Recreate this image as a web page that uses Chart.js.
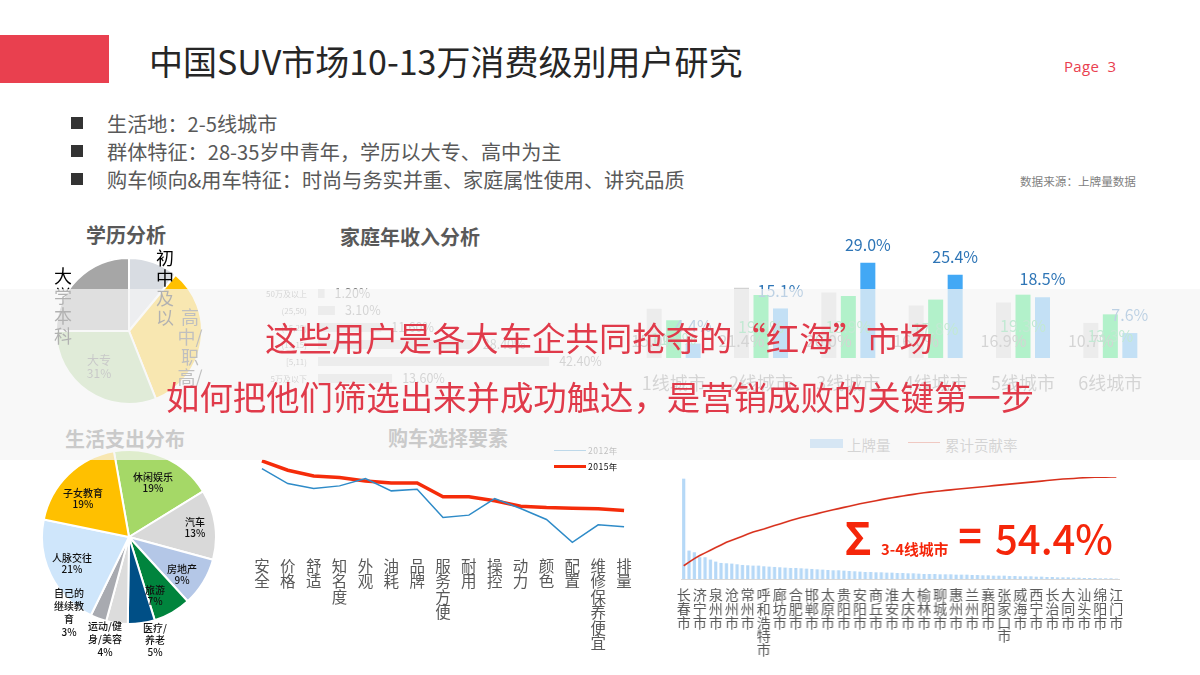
<!DOCTYPE html>
<html lang="zh">
<head>
<meta charset="utf-8">
<script src="https://cdn.jsdelivr.net/npm/chart.js@4"></script>
<style>
html,body{margin:0;padding:0;background:#fff;width:1200px;height:675px;overflow:hidden}
#stage{position:relative;width:1200px;height:675px;overflow:hidden;filter:blur(.45px);font-family:"Noto Sans CJK SC","Noto Sans",sans-serif;background:#fff}
canvas{position:absolute}
.t{position:absolute;white-space:pre;color:#595959}
#veil{position:absolute;left:0;top:289px;width:1200px;height:171px;background:rgba(245,245,245,.72)}
.box{position:absolute}
</style>
</head>
<body>
<div id="stage"></div>
<script>
/* ---------- data ---------- */
const eduLabels = ['初中及以下','高中/职高/中专','大专','大学本科'];
const eduValues = [11,33,31,25];
const eduColors = ['#d8dce2','#ffc000','#a9d18e','#a6a6a6'];

const incomeLabels = ['50万及以上','(25,50)','(15,25)','(11,15)','[5,11)','5万及以下'];
const incomeValues = [1.2,3.1,11.6,28.4,42.4,13.6];

const tierLabels = ['1线城市','2线城市','3线城市','4线城市','5线城市','6线城市'];
const tierGray  = [15.0,21.4,20.0,16.0,16.9,10.7];
const tierGreen = [11.5,19.2,18.9,17.8,19.3,13.3];
const tierBlue  = [4.4,15.1,29.0,25.4,18.5,7.6];

const spendLabels = ['休闲娱乐','汽车','房地产','旅游','医疗/养老','运动/健身/美容','自己的继续教育','人脉交往','子女教育'];
const spendValues = [19,13,9,7,5,4,3,21,19];
const spendColors = ['#a5d867','#d9d9d9','#b4c7e7','#00843d','#004f86','#dcdcdc','#a8aab0','#cfe6fb','#ffc000'];

const factorLabels = ['安全','价格','舒适','知名度','外观','油耗','品牌','服务方便','耐用','操控','动力','颜色','配置','维修保养便宜','排量'];
const factors2012 = [57,48,45,46.6,51,43.6,44.6,27.6,29,39,33,26.4,12.6,23.2,22];
const factors2015 = [61.6,56,52.6,51.6,49.6,48.4,48.4,40,40,37.6,34.4,33.6,33.2,32.8,31.8];

const cityLabels = ['长春市','济宁市','泉州市','沧州市','常州市','呼和浩特市','廊坊市','合肥市','邯郸市','太原市','贵阳市','安阳市','商丘市','淮安市','大庆市','榆林市','聊城市','惠州市','兰州市','襄阳市','张家口市','威海市','西宁市','长治市','大同市','汕头市','绵阳市','江门市'];
const cityBars = [300,85,80,65,65,58,52,48,47,46,
  44,42,41,40,40,38,37,36,35,34,
  33,33,32,31,30,29,28,27,26,26,
  25,24,23,22,21,21,20,20,19,19,
  18,18,17,17,16,15,15,15,14,14,
  14,13,13,13,12,12,11,11,10,10,
  10,9,9,8,8,8,7,7,6,6,
  5,5,5,4,4,3,3,3,2,2,
  2,1];
const cityCum = [13,16.5,20,23,25.6,28.2,30.8,33.4,36,38,
  40,42,44,46,47.5,49,50.8,52.4,54,55.7,
  57.4,58.8,60.2,61.5,62.8,64.1,65.4,66.6,67.8,69,
  70.2,71.4,72.6,73.8,74.8,75.8,76.8,77.8,78.8,79.7,
  80.5,81.4,82.2,83,83.8,84.6,85.2,85.8,86.3,86.9,
  87.4,88,88.5,89,89.5,90,90.5,91,91.5,92,
  92.5,93,93.5,94,94.5,95,95.5,96,96.5,97,
  97.5,98,98.3,98.6,99,99.3,99.5,99.7,99.8,99.9,
  100,100];

/* ---------- helpers ---------- */
const stage = document.getElementById('stage');
const FONT = '"Noto Sans CJK SC","Noto Sans",sans-serif';
function text(str,x,y,style={},anchor='left'){
  const d=document.createElement('div');d.className='t';d.textContent=str;
  d.style.left=x+'px';d.style.top=y+'px';
  const tx=anchor==='center'?'-50%':anchor==='right'?'-100%':'0';
  d.style.transform=`translate(${tx},-50%)`;
  Object.assign(d.style,style);stage.appendChild(d);return d;
}
function rect(x,y,w,h,color){
  const d=document.createElement('div');d.className='box';
  Object.assign(d.style,{left:x+'px',top:y+'px',width:w+'px',height:h+'px',background:color});
  stage.appendChild(d);return d;
}
function canvasAt(x,y,w,h){
  const c=document.createElement('canvas');
  c.width=w;c.height=h;
  Object.assign(c.style,{left:x+'px',top:y+'px',width:w+'px',height:h+'px'});
  stage.appendChild(c);return c;
}
const base={responsive:false,animation:false,devicePixelRatio:1,
  plugins:{legend:{display:false},tooltip:{enabled:false},title:{display:false}}};
function vert(s){return s.split('');}

/* ---------- header ---------- */
rect(0,35,109,48,'#e9404f');
text('中国SUV市场10-13万消费级别用户研究',149,60,{fontSize:'34px',color:'#262626'});
text('Page  3',1064,65.5,{fontSize:'15px',color:'#e9404f',fontFamily:'"Open Sans",sans-serif',fontWeight:'500',letterSpacing:'.3px'});
const bullets=['生活地：2-5线城市','群体特征：28-35岁中青年，学历以大专、高中为主','购车倾向&用车特征：时尚与务实并重、家庭属性使用、讲究品质'];
bullets.forEach((b,i)=>{
  rect(71,117+i*28,12,12,'#333');
  text(b,107,123+i*28,{fontSize:'20.15px',color:'#595959'});
});
text('数据来源：上牌量数据',1020,181,{fontSize:'11.6px',color:'#7f7f7f'});

/* ---------- section titles ---------- */
const ttl={fontSize:'20px',fontWeight:'700',color:'#595959'};
text('学历分析',86,234,ttl);
text('家庭年收入分析',340,236,ttl);
text('生活支出分布',65,438,ttl);
text('购车选择要素',388,437,ttl);

/* ---------- education pie ---------- */
new Chart(canvasAt(55,257,148,148),{type:'pie',
  data:{labels:eduLabels,datasets:[{data:eduValues,backgroundColor:eduColors,borderColor:'#fff',borderWidth:2}]},
  options:{...base}});
const pieTxt={fontSize:'18px',lineHeight:'20px',color:'#000',textAlign:'center'};
text('初\n中\n及\n以',165,287,pieTxt,'center');
text('大\n学\n本\n科',63,305,pieTxt,'center');
text('高\n中/\n职\n高/',190,346,{...pieTxt,color:'#333'},'center');
text('大专\n31%',99,366,{fontSize:'12px',lineHeight:'13px',color:'#555',textAlign:'center'},'center');

/* ---------- income bars ---------- */
const incomeLabelPlugin={id:'incomeVals',afterDatasetsDraw(ch){
  const c=ch.ctx;c.save();c.font='12.5px '+FONT;c.fillStyle='#7f7f7f';c.textBaseline='middle';
  ch.getDatasetMeta(0).data.forEach((b,i)=>{c.fillText(incomeValues[i].toFixed(2)+'%',b.x+10,b.y);});
  c.restore();}};
new Chart(canvasAt(258,285,350,102),{type:'bar',
  data:{labels:incomeLabels,datasets:[{data:incomeValues,backgroundColor:'#d2d2d2',barPercentage:.53,categoryPercentage:1}]},
  options:{...base,indexAxis:'y',layout:{padding:0},
    scales:{x:{display:false,min:0,max:53.2},
      y:{grid:{display:false},border:{display:false},afterFit(s){s.width=60;s.paddingTop=0;s.paddingBottom=0;},
        ticks:{font:{size:8,family:FONT},color:'#7f7f7f',padding:3}}}},
  plugins:[incomeLabelPlugin]});

/* ---------- tier bars ---------- */
const tierLabelPlugin={id:'tierVals',afterDatasetsDraw(ch){
  const c=ch.ctx;c.save();c.font='16px '+FONT;c.textAlign='center';
  const zero=ch.scales.y.getPixelForValue(0);
  ch.getDatasetMeta(0).data.forEach((b,i)=>{c.fillStyle='#7f7f7f';c.textBaseline='middle';c.fillText(tierGray[i].toFixed(1)+'%',b.x,zero-17);});
  ch.getDatasetMeta(1).data.forEach((b,i)=>{c.fillStyle='#3fc97a';c.textBaseline='middle';c.fillText(tierGreen[i].toFixed(1)+'%',b.x,(b.y+zero)/2);});
  ch.getDatasetMeta(2).data.forEach((b,i)=>{c.fillStyle='#2e75b6';c.textBaseline='bottom';c.fillText(tierBlue[i].toFixed(1)+'%',b.x,b.y-10);});
  c.restore();}};
const barOpt={barPercentage:.77,categoryPercentage:.67};
new Chart(canvasAt(630,230,524,170),{type:'bar',
  data:{labels:tierLabels,datasets:[
    {data:tierGray,backgroundColor:'#d2d2d2',...barOpt},
    {data:tierGreen,backgroundColor:'#06e45a',...barOpt},
    {data:tierBlue,backgroundColor:'#42a8f5',...barOpt}]},
  options:{...base,layout:{padding:{top:23}},
    scales:{y:{display:false,min:0,max:32},
      x:{grid:{display:false},border:{display:false},afterFit(s){s.height=42;s.paddingLeft=0;s.paddingRight=0;},
        ticks:{font:{size:18,family:FONT},color:'#7f7f7f',padding:6,autoSkip:false,maxRotation:0}}}},
  plugins:[tierLabelPlugin]});
rect(810,439,33,9,'#87bdf0');
text('上牌量',847,444,{fontSize:'14.5px',color:'#7f7f7f'});
rect(908,442,32,1,'#e0563e');
text('累计贡献率',945,444,{fontSize:'14.5px',color:'#7f7f7f'});

/* ---------- spending pie ---------- */
new Chart(canvasAt(41,449,176,176),{type:'pie',
  data:{labels:spendLabels,datasets:[{data:spendValues,backgroundColor:spendColors,borderColor:'#fff',borderWidth:2}]},
  options:{...base,rotation:-10}});
const sp={fontSize:'10px',lineHeight:'11px',color:'#111',textAlign:'center',fontWeight:'500'};
text('休闲娱乐\n19%',153,482,sp,'center');
text('子女教育\n19%',83,498,sp,'center');
text('汽车\n13%',195,527,sp,'center');
text('房地产\n9%',182,574,sp,'center');
text('旅游\n7%',155,595,sp,'center');
text('医疗/\n养老\n5%',155,640,{...sp,lineHeight:'12px'},'center');
text('运动/健\n身/美容\n4%',105,638,{...sp,lineHeight:'13px'},'center');
text('自己的\n继续教\n育\n3%',69,612,{...sp,lineHeight:'13px'},'center');
text('人脉交往\n21%',72,563,sp,'center');

/* ---------- factor lines ---------- */
new Chart(canvasAt(248.7,447,388.5,214),{type:'line',
  data:{labels:factorLabels.map(vert),datasets:[
    {label:'2012年',data:factors2012,borderColor:'#2e8bc8',borderWidth:1.5,pointRadius:0,tension:0},
    {label:'2015年',data:factors2015,borderColor:'#f52c0a',borderWidth:3.5,pointRadius:0,tension:0}]},
  options:{...base,
    scales:{y:{display:false,min:5,max:70},
      x:{offset:true,grid:{display:false},border:{display:false},afterFit(s){s.height=106;s.paddingLeft=0;s.paddingRight=0;},
        ticks:{font:{size:15.5,family:FONT,lineHeight:1},color:'#595959',padding:-5,autoSkip:false,maxRotation:0}}}}});
rect(554,450,32,1,'#2e8bc8');
text('2012年',588,450,{fontSize:'8.5px',color:'#333',letterSpacing:'.5px'});
rect(554,465,32,3,'#f52c0a');
text('2015年',588,466,{fontSize:'8.5px',color:'#111',letterSpacing:'.5px'});

/* ---------- city pareto ---------- */
const cityTicks=cityBars.map((_,i)=>i%3===0?vert(cityLabels[i/3]):'');
new Chart(canvasAt(671.3,476.7,457.3,190),{
  data:{labels:cityTicks,datasets:[
    {type:'line',data:cityCum,yAxisID:'y1',borderColor:'#d8301c',borderWidth:1.6,pointRadius:0,tension:0},
    {type:'bar',data:cityBars,yAxisID:'y',backgroundColor:'#b5d8f7',barPercentage:.6,categoryPercentage:1}]},
  options:{...base,layout:{padding:{left:10,right:10}},
    scales:{y:{display:false,min:0,max:305},y1:{display:false,min:0,max:100},
      x:{offset:true,grid:{display:false},border:{display:true,color:'#d9d9d9'},afterFit(s){s.height=88;s.paddingLeft=0;s.paddingRight=0;},
        ticks:{font:{size:14,family:FONT,lineHeight:.98},color:'#595959',padding:1,autoSkip:false,maxRotation:0}}}}});
const sig={color:'#f5260a',fontWeight:'700'};
text('Σ',858,536,{...sig,fontSize:'44px'},'center');
text('3-4线城市',881,548,{...sig,fontSize:'14.8px'});
text('=',970,534,{...sig,fontSize:'40px'},'center');
text('54.4%',1054,536.5,{color:'#f5260a',fontSize:'40px',fontWeight:'500'},'center');

/* ---------- veil and message ---------- */
const veil=document.createElement('div');veil.id='veil';stage.appendChild(veil);
const msg={fontSize:'33.4px',color:'#e03a4a'};
text('这些用户是各大车企共同抢夺的“红海”市场',265,336,msg);
text('如何把他们筛选出来并成功触达，是营销成败的关键第一步',166,395,msg);
</script>
</body>
</html>
